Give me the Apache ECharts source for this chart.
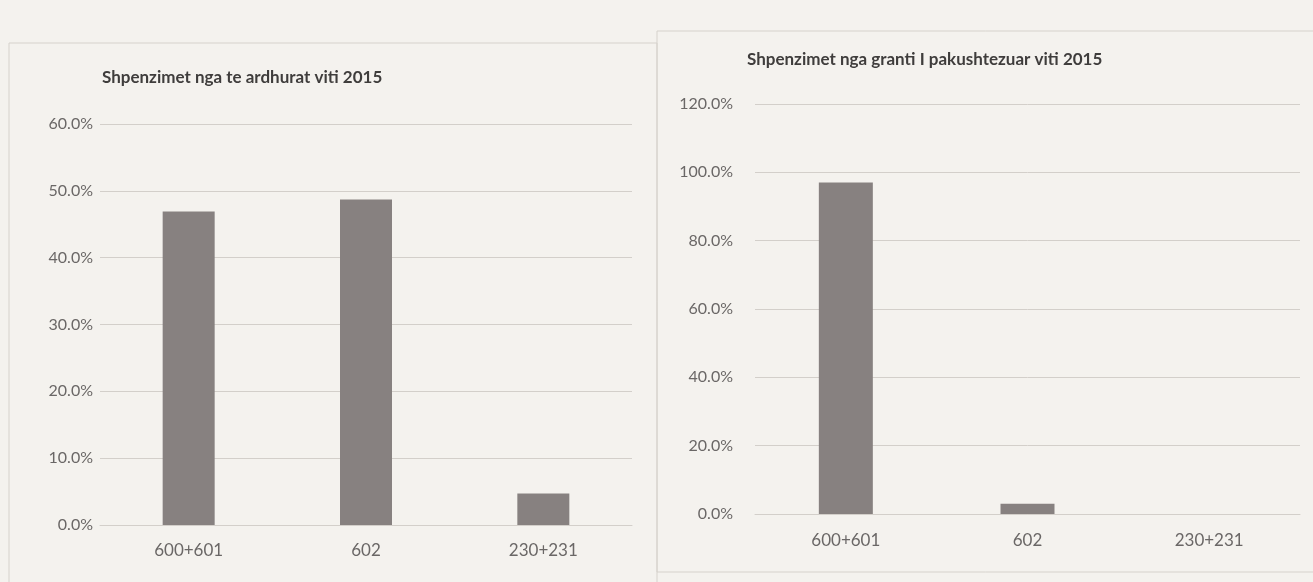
<!DOCTYPE html>
<html>
<head>
<meta charset="utf-8">
<style>
html,body{margin:0;padding:0;background:#f4f2ee;}
#c{width:1313px;height:582px;}
</style>
<script src="https://cdn.jsdelivr.net/npm/echarts@6/dist/echarts.min.js"></script>
</head>
<body>
<div id="c"></div>
<script>
const categories = ['600+601', '602', '230+231'];
const titleLeft = 'Shpenzimet nga te ardhurat viti 2015';
const titleRight = 'Shpenzimet nga granti I pakushtezuar viti 2015';
const valuesLeft = [46.9, 48.7, 4.7];
const valuesRight = [97.0, 3.0, 0];
const ticksLeft = {min: 0, max: 60, interval: 10};
const ticksRight = {min: 0, max: 120, interval: 20};

const chart = echarts.init(document.getElementById('c'));
const labelColor = '#6a6766';
const gridColor = '#d3cfca';
const barColor = '#878180';
const font = 'Lato, "Open Sans", sans-serif';

function yAxis(idx, t, margin) {
  return {
    type: 'value', gridIndex: idx, min: t.min, max: t.max, interval: t.interval,
    axisLine: {show: false}, axisTick: {show: false},
    splitLine: {lineStyle: {color: gridColor, width: 1}},
    axisLabel: {color: labelColor, fontFamily: font, fontSize: 16, margin: margin,
      formatter: v => v.toFixed(1) + '%'}
  };
}
function xAxis(idx, margin) {
  return {
    type: 'category', gridIndex: idx, data: categories,
    axisLine: {lineStyle: {color: gridColor}}, axisTick: {show: false},
    axisLabel: {color: labelColor, fontFamily: font, fontSize: 17, margin: margin}
  };
}

chart.setOption({
  backgroundColor: '#f4f2ee',
  animation: false,
  title: [
    {text: titleLeft, left: 97, top: 64, textStyle: {fontFamily: font, fontWeight: 'bold', fontSize: 17, color: '#3f3d3c'}},
    {text: titleRight, left: 742, top: 46, textStyle: {fontFamily: font, fontWeight: 'bold', fontSize: 17, color: '#3f3d3c'}}
  ],
  graphic: [
    {type: 'rect', shape: {x: 9, y: 43, width: 648, height: 560}, style: {fill: 'none', stroke: '#d6d2cc', lineWidth: 1}, z: -1},
    {type: 'rect', shape: {x: 657, y: 31, width: 670, height: 541}, style: {fill: 'none', stroke: '#d6d2cc', lineWidth: 1}, z: -1}
  ],
  grid: [
    {left: 100, right: 681, top: 124, bottom: 57},
    {left: 755, right: 13, top: 104, bottom: 68}
  ],
  xAxis: [xAxis(0, 17), xAxis(1, 18)],
  yAxis: [yAxis(0, ticksLeft, 7), yAxis(1, ticksRight, 22)],
  series: [
    {type: 'bar', xAxisIndex: 0, yAxisIndex: 0, data: valuesLeft, barWidth: 52, itemStyle: {color: barColor}},
    {type: 'bar', xAxisIndex: 1, yAxisIndex: 1, data: valuesRight, barWidth: 54, itemStyle: {color: barColor}}
  ]
});
</script>
</body>
</html>
